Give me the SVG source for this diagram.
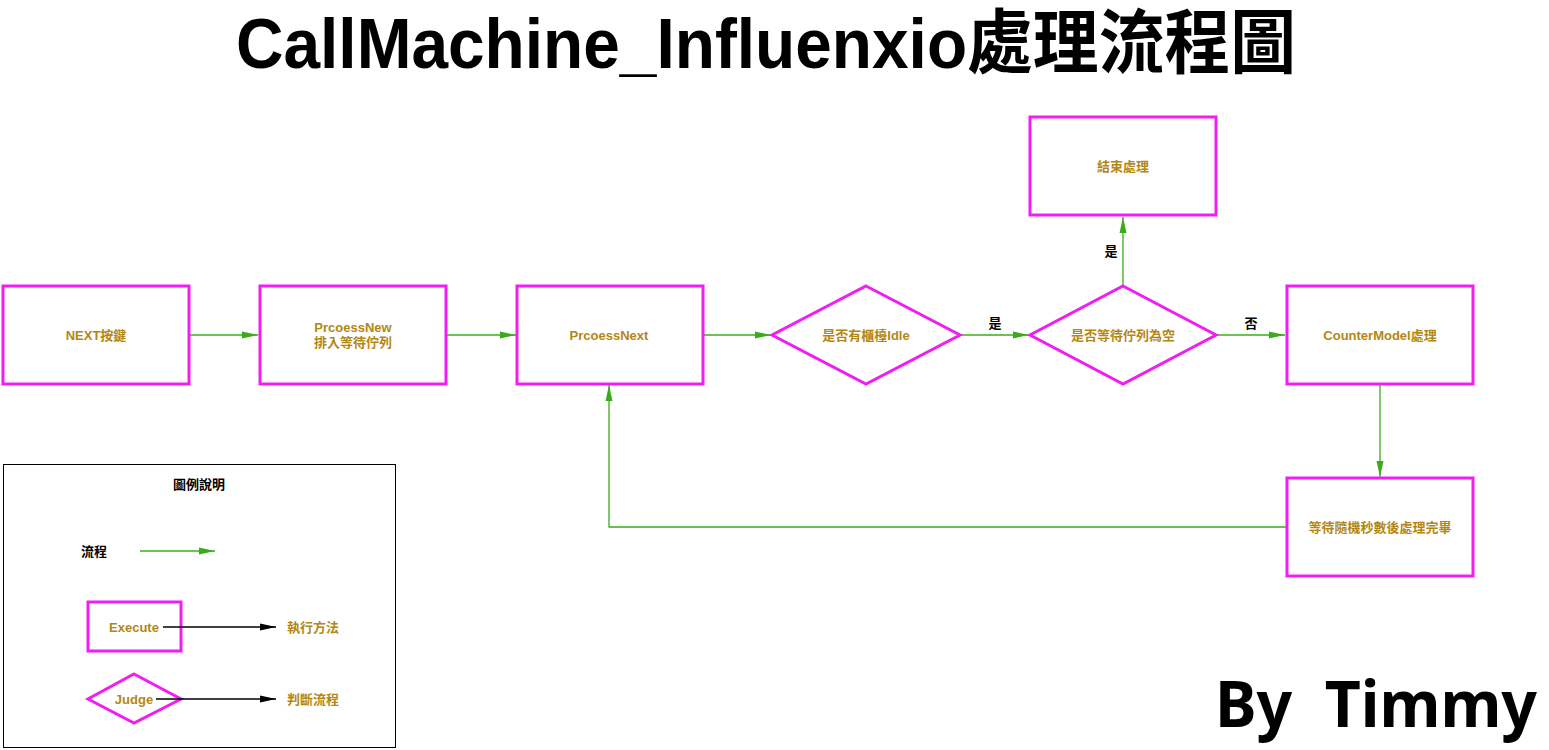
<svg xmlns="http://www.w3.org/2000/svg" width="1549" height="750" viewBox="0 0 1549 750">
<style>
.box{fill:#fff;stroke:#f01ef0;stroke-width:3}
.lbl{font-family:"Liberation Sans","Noto Sans CJK TC",sans-serif;font-weight:bold;font-size:13px;fill:#b38712;text-anchor:middle;dominant-baseline:central}
.blk{font-family:"Liberation Sans","Noto Sans CJK TC",sans-serif;font-weight:bold;font-size:13px;fill:#000;text-anchor:middle;dominant-baseline:central}
.flow{fill:none;stroke:#3aac1a;stroke-width:1.3}
.exl{fill:none;stroke:#000;stroke-width:1.3}
</style>
<defs>
<marker id="ga" viewBox="0 0 16 8" refX="16" refY="4" markerWidth="16" markerHeight="8" markerUnits="userSpaceOnUse" orient="auto"><path d="M0,0.5 L16,4 L0,7.5 Z" fill="#3aac1a"/></marker>
<marker id="ka" viewBox="0 0 16 8" refX="16" refY="4" markerWidth="16" markerHeight="8" markerUnits="userSpaceOnUse" orient="auto"><path d="M0,0.5 L16,4 L0,7.5 Z" fill="#000"/></marker>
</defs>
<rect width="1549" height="750" fill="#fff"/>
<text x="766" y="68" font-family="Liberation Sans,'Noto Sans CJK TC',sans-serif" font-weight="bold" font-size="70" textLength="1060" lengthAdjust="spacingAndGlyphs" text-anchor="middle" fill="#000">CallMachine_Influenxio處理流程圖</text>
<g id="connectors">
<line class="flow" x1="189" y1="335" x2="258" y2="335" marker-end="url(#ga)"/>
<line class="flow" x1="446" y1="335" x2="516" y2="335" marker-end="url(#ga)"/>
<line class="flow" x1="703" y1="335" x2="771" y2="335" marker-end="url(#ga)"/>
<line class="flow" x1="960" y1="335" x2="1029" y2="335" marker-end="url(#ga)"/>
<line class="flow" x1="1123" y1="286" x2="1123" y2="217" marker-end="url(#ga)"/>
<line class="flow" x1="1216" y1="335" x2="1285" y2="335" marker-end="url(#ga)"/>
<line class="flow" x1="1380" y1="384" x2="1380" y2="477" marker-end="url(#ga)"/>
<polyline class="flow" points="1286,527 609,527 609,385" marker-end="url(#ga)"/>
<text class="blk" x="995" y="323">是</text>
<text class="blk" x="1111" y="251">是</text>
<text class="blk" x="1251" y="323">否</text>
</g>
<g id="n-next"><rect class="box" x="3" y="286" width="186" height="98"/><text class="lbl" x="96" y="335">NEXT按鍵</text></g>
<g id="n-new"><rect class="box" x="260" y="286" width="186" height="98"/><text class="lbl" x="353" y="327">PrcoessNew</text><text class="lbl" x="353" y="342">排入等待佇列</text></g>
<g id="n-procnext"><rect class="box" x="517" y="286" width="186" height="98"/><text class="lbl" x="609" y="335">PrcoessNext</text></g>
<g id="n-idle"><polygon class="box" points="866,286 960,335 866,384 772,335"/><text class="lbl" x="866" y="335">是否有櫃檯Idle</text></g>
<g id="n-empty"><polygon class="box" points="1123,286 1216,335 1123,384 1030,335"/><text class="lbl" x="1123" y="335">是否等待佇列為空</text></g>
<g id="n-end"><rect class="box" x="1030" y="117" width="186" height="98"/><text class="lbl" x="1123" y="166">結束處理</text></g>
<g id="n-counter"><rect class="box" x="1287" y="286" width="186" height="98"/><text class="lbl" x="1380" y="335">CounterModel處理</text></g>
<g id="n-wait"><rect class="box" x="1287" y="478" width="186" height="98"/><text class="lbl" x="1380" y="527">等待隨機秒數後處理完畢</text></g>
<g id="legend">
<rect x="3.5" y="464.5" width="392" height="283" fill="none" stroke="#000" stroke-width="1"/>
<text class="blk" x="199" y="484">圖例說明</text>
<text class="blk" x="94" y="551">流程</text>
<line class="flow" x1="140" y1="551" x2="215" y2="551" marker-end="url(#ga)"/>
<rect class="box" x="88" y="602" width="93" height="49"/>
<text class="lbl" x="134" y="627">Execute</text>
<line class="exl" x1="163" y1="627" x2="276" y2="627" marker-end="url(#ka)"/>
<text class="lbl" x="313" y="627">執行方法</text>
<polygon class="box" points="134,674 181,699 134,723 88,699"/>
<text class="lbl" x="134" y="699">Judge</text>
<line class="exl" x1="156" y1="699" x2="276" y2="699" marker-end="url(#ka)"/>
<text class="lbl" x="313" y="699">判斷流程</text>
</g>
<text x="1376" y="727" font-family="'Noto Sans',sans-serif" font-weight="bold" font-size="64" textLength="322" lengthAdjust="spacingAndGlyphs" text-anchor="middle" fill="#000" xml:space="preserve">By  Timmy</text>
</svg>
